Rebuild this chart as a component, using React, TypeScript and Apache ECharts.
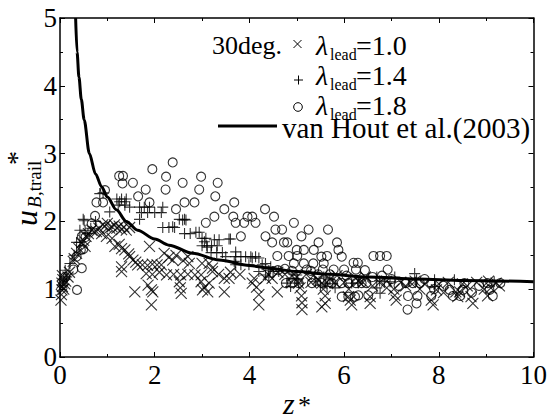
import React, { useEffect, useRef } from "react";
import * as echarts from "echarts";

// ---- data ----
const xRange = [0, 10];
const yRange = [0, 5];

const lead10: [number, number][] = [
  [0.02, 0.84], [0.03, 0.92], [0.04, 0.99], [0.05, 1.04], [0.04, 1.09], [0.06, 1.14], [0.05, 1.2], [0.08, 1.0],
  [0.1, 1.08], [0.12, 1.12], [0.17, 1.18], [0.2, 1.25], [0.28, 1.41], [0.3, 1.45], [0.35, 1.53], [0.4, 1.6],
  [0.46, 1.68], [0.5, 1.72], [0.53, 1.63], [0.55, 1.78], [0.6, 1.82], [0.67, 1.87], [0.72, 1.85], [0.77, 1.85],
  [0.82, 1.9], [0.88, 1.82], [0.9, 1.95], [0.95, 1.93], [1.0, 1.97], [1.05, 1.9], [1.1, 1.92], [1.15, 1.95],
  [1.2, 1.9], [1.25, 1.93], [1.3, 1.88], [1.35, 1.92], [1.4, 1.87], [1.47, 1.91],
  [0.98, 1.78], [1.1, 1.75], [1.16, 1.63], [1.25, 1.66], [1.3, 1.6], [1.37, 1.58], [1.45, 1.52], [1.47, 1.48],
  [1.54, 1.43], [1.6, 1.4], [1.64, 1.36], [1.74, 1.36], [1.85, 1.35], [1.95, 1.37], [2.05, 1.36], [2.14, 1.36],
  [1.89, 1.63], [2.2, 1.53], [2.3, 1.47], [2.38, 1.43], [2.45, 1.5], [2.7, 1.48], [2.73, 1.38], [2.6, 1.42],
  [3.15, 1.38], [3.22, 1.31], [3.0, 1.38], [1.3, 1.33], [1.3, 1.26], [1.82, 1.23], [1.95, 1.22], [2.1, 1.25],
  [2.25, 1.21], [2.4, 1.22], [2.55, 1.21], [2.7, 1.22], [2.85, 1.21], [2.98, 1.21], [1.58, 0.96], [1.86, 1.06],
  [1.93, 0.99], [1.93, 0.77], [1.96, 0.96], [2.52, 1.11], [2.54, 1.02], [2.56, 0.94], [2.98, 1.11], [3.05, 1.03],
  [3.12, 0.96], [3.01, 0.99],
  [3.15, 1.09], [3.22, 1.26], [3.47, 1.16], [3.57, 1.16], [3.47, 0.96], [3.35, 1.22], [3.6, 1.25], [3.8, 1.22],
  [4.06, 1.09], [4.1, 1.16], [4.15, 1.03], [4.2, 0.92], [4.2, 0.77], [4.34, 1.16], [4.48, 1.16], [4.4, 1.22],
  [4.59, 0.96], [4.6, 1.25], [4.75, 1.22], [4.9, 1.2], [5.04, 1.09], [5.07, 1.02], [5.1, 0.9], [5.11, 0.8],
  [5.11, 0.7], [5.0, 1.18], [5.2, 1.22], [5.35, 1.2], [5.53, 1.09], [5.56, 1.0], [5.6, 0.9], [5.6, 0.79],
  [5.53, 0.74], [5.7, 1.15], [5.85, 1.2], [5.3, 1.1], [5.45, 1.15], [5.8, 1.1],
  [6.0, 1.1], [6.09, 0.89], [6.13, 0.84], [6.16, 0.77], [6.1, 1.0], [6.25, 1.16], [6.4, 1.1], [6.55, 0.89],
  [6.55, 0.79], [6.6, 1.05], [6.75, 1.1], [6.9, 1.12], [7.07, 0.91], [7.1, 0.84], [7.05, 1.0], [7.2, 1.1],
  [7.3, 1.05], [7.5, 1.12], [7.6, 1.0], [7.84, 0.84], [7.88, 0.77], [7.95, 0.99], [8.0, 1.08], [8.2, 1.1],
  [8.36, 0.96], [8.4, 0.89], [8.44, 0.96], [8.6, 1.05], [8.68, 0.89], [8.72, 0.79], [8.96, 1.0], [9.03, 0.9],
  [9.1, 1.02], [9.21, 1.09], [9.28, 1.05], [6.3, 1.12], [6.45, 1.18], [6.9, 1.02], [7.4, 1.1], [7.7, 1.08],
  [8.1, 0.95], [8.5, 1.08], [8.8, 1.1], [9.05, 1.12],
];

const lead14: [number, number][] = [
  [0.05, 1.05], [0.08, 1.15], [0.11, 1.28], [0.14, 1.18], [0.21, 1.38], [0.3, 1.5], [0.35, 1.69], [0.42, 1.69],
  [0.42, 1.87], [0.49, 2.03], [0.51, 2.01], [0.53, 1.87], [0.59, 1.82], [0.65, 1.9], [0.75, 2.0], [0.84, 2.41],
  [0.91, 2.42], [1.05, 2.14], [1.2, 2.33], [1.26, 2.29], [1.3, 2.33], [1.37, 2.29], [1.4, 2.33], [1.23, 2.24],
  [1.37, 2.24], [1.47, 2.21], [1.68, 2.21], [1.78, 2.21], [1.89, 2.21], [2.17, 2.21], [1.72, 2.13], [1.85, 2.13],
  [2.0, 2.13], [2.14, 2.13], [1.68, 2.03], [2.52, 2.03], [2.59, 2.02], [2.63, 2.03], [2.66, 2.02], [2.17, 1.91],
  [2.3, 1.91], [2.38, 1.92], [2.42, 1.91], [2.63, 1.82], [2.75, 1.82], [2.87, 1.84], [2.94, 1.84], [3.0, 1.75],
  [3.08, 1.75], [3.26, 1.73], [3.36, 1.73], [3.57, 1.74], [3.6, 1.74], [3.05, 1.7], [3.11, 1.62], [3.0, 1.64],
  [3.1, 1.64], [3.2, 1.64], [3.32, 1.64], [3.19, 1.54], [3.31, 1.54], [3.43, 1.54], [3.5, 1.48], [3.71, 1.55],
  [3.71, 1.48], [3.82, 1.48], [3.92, 1.48], [4.03, 1.48], [4.13, 1.48], [4.06, 1.46], [4.2, 1.46], [3.68, 1.41],
  [3.71, 1.36], [3.82, 1.36], [3.99, 1.36], [4.27, 1.36], [4.34, 1.38], [4.45, 1.33], [4.41, 1.28], [4.2, 1.26],
  [4.34, 1.21], [4.41, 1.18], [4.5, 1.26], [4.62, 1.26], [4.79, 1.09], [4.87, 1.04], [4.9, 1.16], [5.0, 1.21],
  [5.02, 1.15], [5.04, 1.09], [5.39, 1.11], [5.5, 1.06], [5.57, 1.18], [5.6, 1.09], [5.64, 1.04], [5.7, 1.14],
  [5.76, 1.08], [5.81, 1.02], [6.16, 1.09], [6.3, 1.09], [6.69, 1.18], [6.75, 1.12], [6.85, 1.11], [6.97, 1.11],
  [6.69, 1.02], [6.76, 0.94], [7.07, 1.18], [7.49, 1.23], [7.53, 1.14], [7.91, 1.14], [7.91, 1.04], [8.33, 1.14],
  [9.17, 1.11],
];

const lead18: [number, number][] = [
  [0.11, 1.18], [0.28, 1.29], [0.36, 0.99], [0.35, 1.48], [0.44, 1.58], [0.46, 1.31], [0.49, 1.59], [0.54, 1.77],
  [0.46, 1.78], [0.67, 1.97], [0.74, 2.08], [0.77, 2.28], [0.91, 2.28], [0.95, 2.46], [1.25, 2.67], [1.33, 2.67],
  [1.32, 2.56], [1.54, 2.57], [1.65, 2.37], [1.81, 2.47], [1.89, 2.28], [1.95, 2.77], [2.23, 2.47], [2.24, 2.66],
  [2.38, 2.87], [2.45, 2.18], [2.59, 2.57], [2.63, 2.28], [2.84, 2.28], [2.94, 2.47], [2.98, 2.66], [3.08, 1.98],
  [3.26, 2.07], [3.28, 2.37], [3.33, 2.57], [3.47, 2.18], [3.66, 2.07], [3.68, 2.28], [3.71, 1.98], [3.82, 1.78],
  [3.89, 1.98], [3.96, 2.07], [4.06, 2.07], [4.13, 1.98], [4.33, 2.18], [4.34, 1.78], [4.48, 1.69], [4.52, 2.07],
  [4.55, 1.88], [4.69, 1.88], [4.59, 1.49], [4.73, 1.69], [4.8, 1.69], [4.83, 1.49], [4.94, 1.98], [4.94, 1.38],
  [5.01, 1.49], [5.1, 1.78], [5.0, 1.58], [5.15, 1.58], [5.25, 1.88], [5.36, 1.58], [5.46, 1.69], [5.15, 1.38],
  [5.21, 1.29], [5.35, 1.38], [5.57, 1.38], [5.52, 1.48], [5.64, 1.49], [5.66, 1.88], [5.85, 1.69], [5.88, 1.58],
  [5.95, 1.48], [6.2, 1.39], [6.29, 1.39], [6.44, 1.28], [6.62, 1.49], [6.76, 1.49], [6.9, 1.49], [6.92, 1.29],
  [5.55, 1.29], [5.78, 1.29], [6.0, 1.29], [6.25, 1.29], [4.77, 1.09], [4.9, 1.09], [5.04, 1.09], [5.32, 1.09],
  [5.53, 1.09], [5.74, 1.09], [5.95, 1.09], [6.09, 1.09], [6.25, 1.09], [6.37, 1.09], [6.47, 1.09], [5.95, 0.89],
  [6.09, 0.89], [6.23, 0.89], [6.3, 0.91], [6.51, 0.91], [7.3, 1.09], [7.45, 1.09], [7.6, 1.09], [7.84, 1.09],
  [7.35, 0.9], [7.55, 0.9], [7.84, 0.9], [7.34, 0.7], [7.53, 0.79], [8.23, 0.99], [8.3, 0.9], [8.51, 0.99],
  [8.45, 0.9], [8.54, 1.09], [9.03, 1.09], [9.07, 0.99], [9.14, 0.9], [9.3, 1.09],
  [4.6, 1.28], [4.75, 1.3], [4.9, 1.27], [5.3, 1.27], [5.45, 1.22], [5.7, 1.22], [6.05, 1.2], [6.6, 1.18],
  [6.8, 1.2], [7.0, 1.15], [7.15, 1.05], [7.7, 1.15], [7.9, 1.0], [8.1, 1.05], [8.7, 0.95], [8.85, 1.05],
];

const vanHout: [number, number][] = [
  [0.33, 5.0], [0.36, 4.5], [0.4, 4.13], [0.45, 3.8], [0.51, 3.5], [0.62, 3.0], [0.75, 2.7], [0.88, 2.51],
  [1.0, 2.36], [1.19, 2.17], [1.4, 2.0], [1.64, 1.87], [2.0, 1.74], [2.3, 1.65], [2.8, 1.53], [3.36, 1.43],
  [4.0, 1.35], [4.41, 1.31], [5.0, 1.26], [5.67, 1.22], [6.5, 1.18], [7.56, 1.15], [8.5, 1.13], [10.0, 1.11],
];

const legendLabels = ["=1.0", "=1.4", "=1.8"];
const titleText = "30deg.";
const lineLabel = "van Hout et al.(2003)";

const FONT = "Liberation Serif";
const X_SYM = "path://M0,0L10,10M10,0L0,10";
const P_SYM = "path://M5,0L5,10M0,5L10,5";

export default function App() {
  const ref = useRef<HTMLDivElement>(null);
  useEffect(() => {
    document.body.style.margin = "0";
    if (!ref.current) return;
    const chart = echarts.init(ref.current, undefined, { renderer: "svg" });
    const axisBase = {
      type: "value" as const,
      axisLine: { show: true, onZero: false, lineStyle: { color: "#000", width: 1.5 } },
      axisTick: { show: true, inside: true, length: 5, lineStyle: { color: "#000", width: 1 } },
      minorTick: { show: true, splitNumber: 2, length: 3, lineStyle: { color: "#000", width: 1 } },
      splitLine: { show: false },
    };
    const labelStyle = { color: "#000", fontFamily: FONT, fontSize: 27 };
    const markerStyle = { color: "transparent", borderColor: "#000", borderWidth: 1.1 };
    const txt = (x: number, y: number, text: string, size: number, italic = false) => ({
      type: "text", x, y,
      style: { text, fontFamily: FONT, fontSize: size, fontStyle: italic ? "italic" : "normal", fill: "#000", verticalAlign: "middle" },
    });

    const g: any[] = [];
    g.push(txt(212, 45, titleText, 26));
    const rows = [45.5, 75.5, 105.5];
    rows.forEach((my, i) => {
      g.push(txt(316, my, "λ", 28, true));
      g.push(txt(330, my + 9, "lead", 16));
      g.push(txt(356, my, legendLabels[i], 28));
    });
    // legend markers
    g.push({ type: "line", shape: { x1: 293.5, y1: 40, x2: 301.5, y2: 48 }, style: { stroke: "#000", lineWidth: 1 } });
    g.push({ type: "line", shape: { x1: 301.5, y1: 40, x2: 293.5, y2: 48 }, style: { stroke: "#000", lineWidth: 1 } });
    g.push({ type: "line", shape: { x1: 294, y1: 80, x2: 303, y2: 80 }, style: { stroke: "#000", lineWidth: 1 } });
    g.push({ type: "line", shape: { x1: 298.5, y1: 75.5, x2: 298.5, y2: 84.5 }, style: { stroke: "#000", lineWidth: 1 } });
    g.push({ type: "circle", shape: { cx: 298, cy: 107, r: 4.3 }, style: { stroke: "#000", fill: "none", lineWidth: 1 } });
    g.push({ type: "line", shape: { x1: 218, y1: 126, x2: 277, y2: 126 }, style: { stroke: "#000", lineWidth: 3 } });
    g.push(txt(282, 128, lineLabel, 29));
    // x axis name z*
    g.push(txt(283, 403, "z", 30, true));
    g.push(txt(298, 405, "*", 26));
    // y axis name (rotated)
    g.push({
      type: "group", x: 36, y: 226, rotation: Math.PI / 2,
      children: [
        txt(0, -10, "u", 32, true),
        txt(18, -2, "B", 19, true),
        txt(30, -2, ",trail", 19),
        txt(61, -20, "*", 28),
      ],
    });

    chart.setOption({
      animation: false,
      backgroundColor: "#fff",
      textStyle: { fontFamily: FONT },
      grid: { left: 60, right: 14, top: 18, bottom: 62, containLabel: false },
      xAxis: [
        { ...axisBase, min: xRange[0], max: xRange[1], interval: 2, position: "bottom",
          axisLabel: { ...labelStyle, margin: 4 } },
        { ...axisBase, min: xRange[0], max: xRange[1], interval: 2, position: "top", axisLabel: { show: false } },
      ],
      yAxis: [
        { ...axisBase, min: yRange[0], max: yRange[1], interval: 1, position: "left",
          axisLabel: { ...labelStyle, margin: 3 } },
        { ...axisBase, min: yRange[0], max: yRange[1], interval: 1, position: "right", axisLabel: { show: false } },
      ],
      series: [
        { type: "scatter", data: lead10, symbol: X_SYM, symbolSize: 11, itemStyle: markerStyle, xAxisIndex: 0, yAxisIndex: 0 },
        { type: "scatter", data: lead14, symbol: P_SYM, symbolSize: 11, itemStyle: markerStyle, xAxisIndex: 0, yAxisIndex: 0 },
        { type: "scatter", data: lead18, symbol: "circle", symbolSize: 9, itemStyle: markerStyle, xAxisIndex: 0, yAxisIndex: 0 },
        { type: "line", data: vanHout, smooth: 0.3, smoothMonotone: "x", showSymbol: false, symbol: "none",
          lineStyle: { color: "#000", width: 3 }, xAxisIndex: 0, yAxisIndex: 0, clip: true },
      ],
      graphic: g,
    });
    return () => chart.dispose();
  }, []);
  return <div ref={ref} style={{ width: 550, height: 419 }} />;
}
